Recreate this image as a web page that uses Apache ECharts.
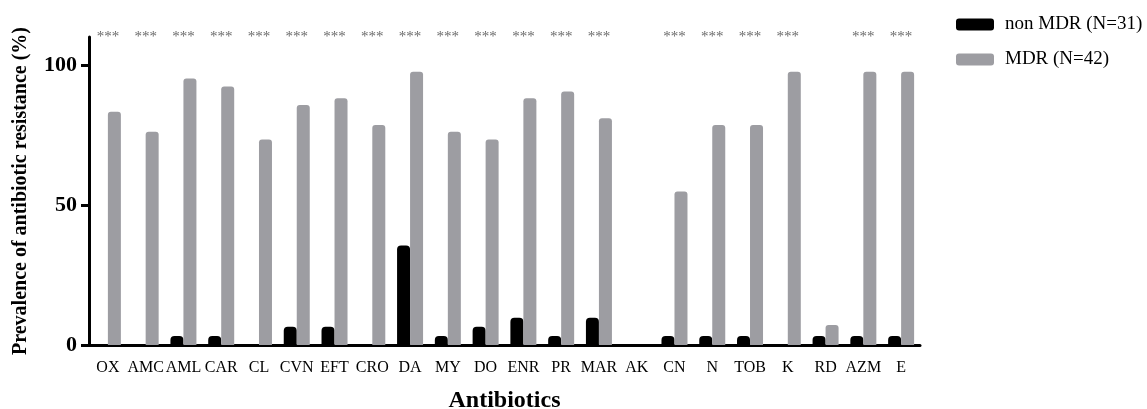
<!DOCTYPE html>
<html>
<head>
<meta charset="utf-8">
<script src="https://cdn.jsdelivr.net/npm/echarts@6/dist/echarts.min.js"></script>
<style>
  html, body { margin: 0; padding: 0; background: #fff; }
  #chart { width: 1147px; height: 409px; }
</style>
</head>
<body>
<div id="chart"></div>
<script>
const categories = ['OX', 'AMC', 'AML', 'CAR', 'CL', 'CVN', 'EFT', 'CRO', 'DA', 'MY', 'DO',
  'ENR', 'PR', 'MAR', 'AK', 'CN', 'N', 'TOB', 'K', 'RD', 'AZM', 'E'];
const nonMdr = [0, 0, 3.2, 3.2, 0, 6.5, 6.5, 0, 35.5, 3.2, 6.5,
  9.7, 3.2, 9.7, 0, 3.2, 3.2, 3.2, 0, 3.2, 3.2, 3.2];
const mdr = [83.3, 76.2, 95.2, 92.3, 73.4, 85.7, 88.1, 78.6, 97.6, 76.2, 73.4,
  88.1, 90.5, 81.0, 0, 54.8, 78.6, 78.6, 97.6, 7.1, 97.6, 97.6];
const signif = ['***', '***', '***', '***', '***', '***', '***', '***', '***', '***', '***',
  '***', '***', '***', '', '***', '***', '***', '***', '', '***', '***'];
const yTicks = [0, 50, 100];

const font = '"Liberation Serif", "Times New Roman", serif';
const chart = echarts.init(document.getElementById('chart'));

const option = {
  backgroundColor: '#fff',
  animation: false,
  textStyle: { fontFamily: font, color: '#000' },
  grid: { left: 89, right: 227, top: 37, bottom: 64, outerBoundsMode: 'none' },
  legend: {
    orient: 'vertical',
    left: 951,
    top: 10,
    itemWidth: 38,
    itemHeight: 12,
    itemGap: 16,
    icon: 'roundRect',
    data: ['non MDR (N=31)', 'MDR (N=42)'],
    textStyle: { fontFamily: font, fontSize: 19, color: '#000', padding: [0, 0, 0, 6] }
  },
  xAxis: {
    type: 'category',
    data: categories,
    name: 'Antibiotics',
    nameLocation: 'middle',
    nameGap: 44,
    nameTextStyle: { fontFamily: font, fontSize: 24, fontWeight: 'bold', color: '#000' },
    axisLine: { lineStyle: { color: '#000', width: 3 } },
    axisTick: { alignWithLabel: true, length: 8, lineStyle: { color: '#000', width: 3 } },
    axisLabel: { interval: 0, margin: 15, fontFamily: font, fontSize: 16, color: '#000' }
  },
  yAxis: {
    type: 'value',
    min: 0,
    max: 110,
    interval: 50,
    name: 'Prevalence of antibiotic resistance (%)',
    nameLocation: 'middle',
    nameGap: 58,
    nameTextStyle: { fontFamily: font, fontSize: 20, fontWeight: 'bold', color: '#000' },
    splitLine: { show: false },
    axisLine: { show: true, lineStyle: { color: '#000', width: 3 } },
    axisTick: { show: true, length: 8, customValues: yTicks, lineStyle: { color: '#000', width: 3 } },
    axisLabel: { margin: 12, customValues: yTicks, fontFamily: font, fontSize: 22, fontWeight: 'bold', color: '#000' }
  },
  series: [
    {
      name: 'non MDR (N=31)',
      type: 'bar',
      data: nonMdr,
      barWidth: 13,
      barGap: '0%',
      itemStyle: { color: '#000', borderRadius: [4, 4, 0, 0] }
    },
    {
      name: 'MDR (N=42)',
      type: 'bar',
      data: mdr,
      barWidth: 13,
      barGap: '0%',
      itemStyle: { color: '#9d9da2', borderRadius: [3, 3, 0, 0] }
    },
    {
      name: 'sig',
      type: 'scatter',
      silent: true,
      symbolSize: 1,
      itemStyle: { color: 'rgba(0,0,0,0)' },
      data: categories.map(function (c, i) { return [c, 110]; }),
      label: {
        show: true,
        position: 'inside',
        fontFamily: font,
        fontSize: 15,
        color: '#444',
        formatter: function (p) { return signif[p.dataIndex]; }
      }
    }
  ]
};
chart.setOption(option);
</script>
</body>
</html>
